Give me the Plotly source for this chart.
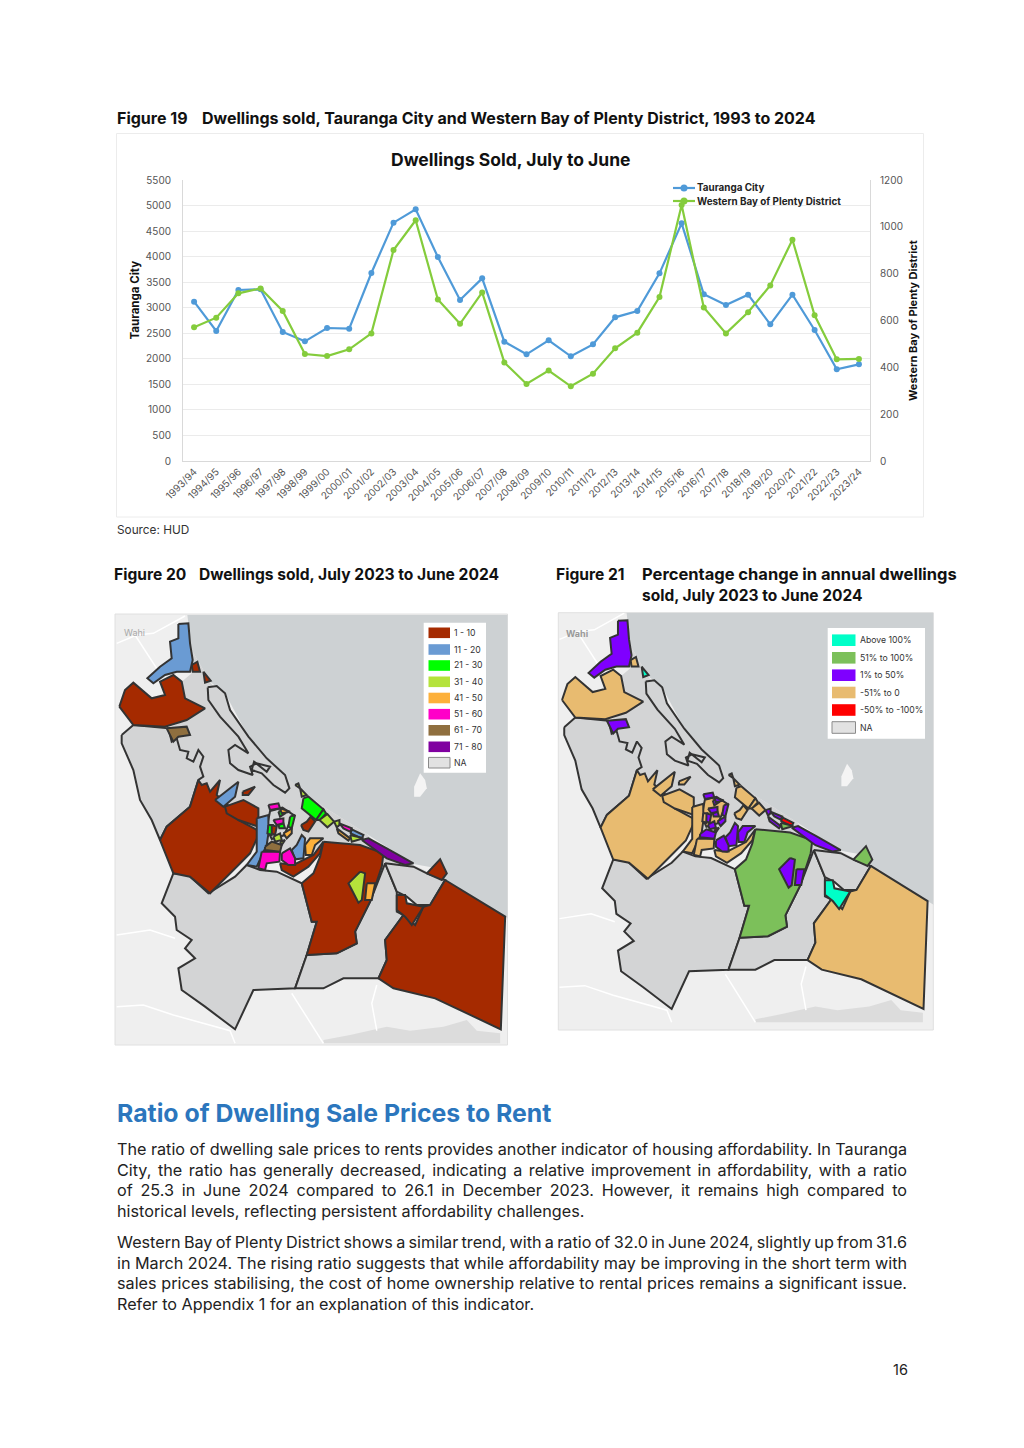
import plotly.graph_objects as go

FONT = "Inter"
W, H = 1024, 1448

# ---------- Figure 19 data ----------
years = ["1993/94","1994/95","1995/96","1996/97","1997/98","1998/99","1999/00","2000/01","2001/02","2002/03",
         "2003/04","2004/05","2005/06","2006/07","2007/08","2008/09","2009/10","2010/11","2011/12","2012/13",
         "2013/14","2014/15","2015/16","2016/17","2017/18","2018/19","2019/20","2020/21","2021/22","2022/23","2023/24"]
tauranga = [3118,2544,3347,3360,2525,2342,2603,2590,3680,4665,4926,3993,3151,3575,2336,2088,2362,2049,2283,2812,
            2936,3673,4652,3262,3053,3256,2675,3256,2564,1794,1892]
western = [571,612,716,737,641,457,448,477,545,901,1028,690,586,720,421,329,386,319,373,481,
           548,700,1093,656,545,635,750,945,622,434,436]

# ---------- Map data: outlines shared by both maps, with a class per map ----------
sea_outline = [(232,15),(1210,15),(1210,935),(1185,920),(1005,810),(980,775),(910,762),(770,672),(640,590),(560,530),
               (520,495),(415,380),(345,250),(300,215),(245,120),(235,40)]
land_patch = [(640,1290),(720,1275),(830,1250),(900,1262),(1000,1250),(1070,1230),(1100,1262),(1170,1270),(1170,1300),(640,1300)]
island = [(930,490),(945,510),(950,535),(930,560),(912,560),(912,530)]
harbour = [(245,120),(300,215),(415,380),(520,495),(640,590),(770,672),(830,730),(910,765),(1005,810),(825,800),(640,740),(450,720),
           (265,530),(175,355),(225,330),(285,295),(225,265),(215,215),(245,190)]
roads = [
    [(20,100),(80,75),(130,70),(225,18)],
    [(75,75),(110,130),(140,175)],
    [(20,1190),(100,1185),(190,1215),(285,1240),(360,1262),(375,1300)],
    [(20,975),(120,960),(195,985)],
    [(545,1150),(590,1220),(640,1300)],
    [(800,1125),(785,1180),(800,1262)],
    [(470,790),(480,960),(560,1130)],
    [(835,770),(870,830),(900,880)],
]
region_outlines = [
 [(35,375),(70,345),(175,355),(185,395),(200,385),(210,420),(235,425),(230,445),(250,455),(265,420),(280,440),(270,470),(280,500),(265,510),(240,590),(170,650),(150,690),(125,630),(90,570),(70,480),(35,400)],
 [(293,232),(320,228),(345,250),(360,300),(415,380),(470,445),(525,495),(538,535),(525,548),(490,525),(455,490),(425,480),(432,455),(470,485),(480,470),(440,460),(420,470),(428,495),(385,480),(360,460),(355,420),(375,405),(415,430),(385,380),(330,320),(295,270)],
 [(190,790),(235,795),(295,850),(375,800),(410,765),(450,780),(500,785),(575,820),(605,935),(620,935),(590,1035),(555,1135),(430,1140),(375,1258),(285,1190),(215,1140),(205,1075),(255,1045),(225,1015),(245,990),(200,960),(195,920),(155,880)],
 [(590,1035),(680,1030),(740,1000),(735,965),(780,875),(810,800),(825,760),(860,845),(860,905),(880,915),(825,990),(830,1050),(805,1105),(700,1105),(640,1135),(555,1135)],
 [(825,760),(910,770),(950,790),(1005,810),(960,885),(920,885),(890,860),(860,845)],
 [(480,603),(517,593),(549,614),(522,676),(485,687),(470,655)],
 [(28,290),(45,240),(70,218),(125,265),(165,255),(150,215),(190,195),(215,215),(225,265),(285,295),(230,330),(165,350),(70,345)],
 [(245,165),(262,155),(270,185),(248,185)],
 [(280,185),(302,212),(285,218)],
 [(265,510),(275,525),(290,520),(300,545),(330,510),(320,555),(370,600),(385,630),(450,665),(420,730),(380,770),(300,850),(240,800),(190,790),(150,690),(170,650),(240,590)],
 [(345,590),(400,570),(445,595),(445,650),(385,630),(350,610)],
 [(398,545),(435,530),(415,555),(398,555)],
 [(573,645),(590,635),(602,620),(615,635),(595,665),(580,660)],
 [(510,760),(550,765),(610,735),(640,695),(630,730),(595,770),(550,800),(515,780)],
 [(640,695),(750,705),(820,730),(815,770),(780,875),(735,965),(740,1000),(680,1030),(590,1035),(620,935),(605,935),(575,820),(610,790),(630,740)],
 [(1005,810),(1185,920),(1172,1258),(975,1165),(850,1135),(805,1105),(830,1050),(825,990),(880,915),(915,945),(940,890),(960,885)],
 [(860,855),(885,855),(890,880),(940,890),(905,945),(885,920),(860,900)],
 [(950,790),(990,748),(1010,790),(995,810)],
 [(205,42),(235,40),(240,100),(248,150),(240,185),(200,185),(165,195),(130,220),(112,205),(150,170),(185,145),(180,95),(205,85)],
 [(315,570),(365,530),(385,515),(375,560),(340,590)],
 [(440,625),(475,615),(475,670),(470,705),(440,770),(410,765),(440,725)],
 [(545,720),(560,705),(575,675),(585,685),(580,745),(555,748)],
 [(725,658),(760,675),(755,685),(722,670)],
 [(580,565),(595,560),(640,598),(618,630),(575,595)],
 [(618,630),(640,598),(648,610),(630,630)],
 [(475,645),(488,645),(485,675),(472,670)],
 [(505,605),(520,600),(525,610),(510,620)],
 [(505,645),(520,640),(525,655),(508,655)],
 [(540,620),(555,615),(545,655),(535,650)],
 [(628,630),(652,612),(672,635),(652,652)],
 [(672,635),(688,630),(688,645),(680,652)],
 [(720,675),(760,685),(725,695)],
 [(750,785),(765,790),(755,870),(745,878),(715,820)],
 [(555,525),(565,520),(570,535)],
 [(570,535),(590,555),(575,560)],
 [(490,680),(510,670),(515,690),(495,695)],
 [(585,705),(600,685),(640,685),(615,705),(605,735),(587,735)],
 [(770,820),(795,820),(785,870),(765,870)],
 [(680,655),(720,685),(715,692),(685,670)],
 [(520,670),(545,655),(545,670),(530,685)],
 [(510,595),(540,605),(515,610)],
 [(455,725),(510,725),(508,755),(470,760),(465,780),(445,775)],
 [(515,730),(540,715),(555,745),(555,765),(535,765),(515,750)],
 [(475,585),(505,580),(510,595),(480,600)],
 [(490,630),(520,625),(520,640),(500,645)],
 [(688,640),(725,655),(720,665),(700,655)],
 [(170,355),(230,350),(240,375),(205,380),(190,395)],
 [(465,710),(485,695),(515,705),(510,725),(465,720)],
 [(755,690),(775,685),(830,715),(910,760),(885,765),(830,745)],
 [(485,645),(500,650),(495,675),(485,670)],
 [(510,695),(525,690),(515,705)],
]
region_class_a = ["NA","NA","NA","NA","NA","NA","1 - 10","1 - 10","1 - 10","1 - 10","1 - 10","1 - 10","1 - 10","1 - 10","1 - 10",
                  "1 - 10","1 - 10","1 - 10","11 - 20","11 - 20","11 - 20","11 - 20","11 - 20","21 - 30","21 - 30","21 - 30",
                  "21 - 30","21 - 30","21 - 30","31 - 40","31 - 40","31 - 40","31 - 40","31 - 40","31 - 40","31 - 40",
                  "41 - 50","41 - 50","41 - 50","41 - 50","41 - 50","51 - 60","51 - 60","51 - 60","51 - 60","51 - 60",
                  "61 - 70","61 - 70","71 - 80","1 - 10","31 - 40"]
region_class_b = ["NA","NA","NA","NA","NA","-51% to 0","-51% to 0","-51% to 0","Above 100%","-51% to 0","-51% to 0","-51% to 0","-51% to 0","-51% to 0",
                  "51% to 100%","-51% to 0","Above 100%","51% to 100%","1% to 50%","-51% to 0","-51% to 0","1% to 50%","-50% to -100%",
                  "-51% to 0","-51% to 0","-51% to 0","1% to 50%","1% to 50%","1% to 50%","-51% to 0","1% to 50%","51% to 100%",
                  "1% to 50%","-51% to 0","-51% to 0","1% to 50%","1% to 50%","1% to 50%","1% to 50%","1% to 50%","1% to 50%",
                  "-51% to 0","1% to 50%","1% to 50%","1% to 50%","1% to 50%","1% to 50%","1% to 50%","1% to 50%","1% to 50%","-50% to -100%"]

legend_a = ["1 - 10","11 - 20","21 - 30","31 - 40","41 - 50","51 - 60","61 - 70","71 - 80","NA"]
legend_a_colors = ["#a52a00","#6a9bd3","#00ff00","#b5e33b","#fdb03a","#ff00c8","#8f6f3f","#8000a0","#e2e2e2"]
legend_b = ["Above 100%","51% to 100%","1% to 50%","-51% to 0","-50% to -100%","NA"]
legend_b_colors = ["#00ffc8","#7cc05a","#7f00ff","#e8bb70","#ff0000","#e2e2e2"]

# ---------- Text ----------
para_lines = [
 "The ratio of dwelling sale prices to rents provides another indicator of housing affordability. In Tauranga",
 "City, the ratio has generally decreased, indicating a relative improvement in affordability, with a ratio",
 "of 25.3 in June 2024 compared to 26.1 in December 2023. However, it remains high compared to",
 "historical levels, reflecting persistent affordability challenges.",
 "Western Bay of Plenty District shows a similar trend, with a ratio of 32.0 in June 2024, slightly up from 31.6",
 "in March 2024. The rising ratio suggests that while affordability may be improving in the short term with",
 "sales prices stabilising, the cost of home ownership relative to rental prices remains a significant issue.",
 "Refer to Appendix 1 for an explanation of this indicator.",
]
para_y = [1149,1169.7,1190,1211,1242,1262.5,1283,1304]
justified = [0,1,2,4,5,6]

def px(x): return x / W
def py(y): return 1 - y / H

fig = go.Figure()
BLUE, GREEN = "#4f9ad8", "#84cc3c"
fig.add_trace(go.Scatter(x=years, y=tauranga, name="Tauranga City", mode="lines+markers", xaxis="x", yaxis="y",
                         line=dict(color=BLUE, width=2.2), marker=dict(size=6, color=BLUE), showlegend=False))
fig.add_trace(go.Scatter(x=years, y=western, name="Western Bay of Plenty District", mode="lines+markers", xaxis="x", yaxis="y2",
                         line=dict(color=GREEN, width=2.2), marker=dict(size=6, color=GREEN), showlegend=False))

COL_A = dict(zip(legend_a, legend_a_colors)); COL_A["NA"] = "#d3d4d5"
COL_B = dict(zip(legend_b, legend_b_colors)); COL_B["NA"] = "#d3d4d5"

def poly(pts, xa, ya, fill, line=None, w=0):
    xs = [p[0] for p in pts]; ys = [p[1] for p in pts]
    fig.add_trace(go.Scatter(x=xs + xs[:1], y=ys + ys[:1], xaxis=xa, yaxis=ya, mode="lines", fill="toself", fillcolor=fill,
                             line=dict(color=line or fill, width=w), hoverinfo="skip", showlegend=False))

for xa, ya, classes, cols in (("x3","y3",region_class_a,COL_A),("x4","y4",region_class_b,COL_B)):
    poly(land_patch, xa, ya, "#dcdcdc")
    for r in roads:
        fig.add_trace(go.Scatter(x=[p[0] for p in r], y=[p[1] for p in r], xaxis=xa, yaxis=ya, mode="lines",
                                 line=dict(color="#ffffff", width=1.5), hoverinfo="skip", showlegend=False))
    poly(sea_outline, xa, ya, "#cdd1d3")
    poly(harbour, xa, ya, "#d3d4d5")
    poly(island, xa, ya, "#f4f4f4")
    for pts, c in zip(region_outlines, classes):
        poly(pts, xa, ya, cols[c], "#333333", 2)

shapes, ann = [], []
def rect(x0, y0, x1, y1, fill, line="rgba(0,0,0,0)", w=0, layer="above"):
    shapes.append(dict(type="rect", xref="paper", yref="paper", x0=px(x0), x1=px(x1), y0=py(y0), y1=py(y1),
                       fillcolor=fill, line=dict(color=line, width=w), layer=layer))
def text(x, y, s, size, color="#111111", weight=400, anchor="left", family=FONT, angle=0):
    shift = {"left": -2, "right": 3, "center": 0}[anchor]
    ann.append(dict(xref="paper", yref="paper", x=px(x + shift), y=py(y), text=s, showarrow=False, xanchor=anchor, yanchor="middle",
                    align=anchor, textangle=angle, font=dict(family=family, size=size, color=color, weight=weight)))

# frames
rect(116.5, 133.5, 923.5, 517, "rgba(0,0,0,0)", "#ececec", 1, "below")
rect(115, 614, 507.5, 1045, "#efefef", "#e0e0e0", 1, "below")
rect(558.3, 612.7, 933.3, 1030, "#efefef", "#e0e0e0", 1, "below")

# headings
text(117, 118, "Figure 19", 16, weight=700)
text(202, 118, "Dwellings sold, Tauranga City and Western Bay of Plenty District, 1993 to 2024", 16, weight=700)
text(510.5, 159, "Dwellings Sold, July to June", 17.5, weight=700, anchor="center")
text(117, 530, "Source: HUD", 11.8, color="#333333")
text(114, 574, "Figure 20", 15.6, weight=700)
text(199, 574, "Dwellings sold, July 2023 to June 2024", 15.6, weight=700)
text(556, 574, "Figure 21", 15.6, weight=700)
text(642, 574, "Percentage change in annual dwellings", 16.5, weight=700)
text(642, 595, "sold, July 2023 to June 2024", 15.5, weight=700)
text(117, 1113, "Ratio of Dwelling Sale Prices to Rent", 24.8, color="#2b76bd", weight=700)
for s, y in zip(para_lines, para_y):
    text(117, y, s, 16.2, color="#222222")
text(907, 1369, "16", 14.5, color="#222222", anchor="right")
text(124, 632, "Wahi", 9, color="#a8a8a8")
text(566, 633, "Wahi", 9, color="#9a9a9a", weight=700)

# chart axis titles and key
text(134.5, 300, "Tauranga City", 11.5, weight=700, anchor="center", angle=-90)
text(913, 321, "Western Bay of Plenty District", 11, weight=700, anchor="center", angle=-90)
for lab, col, yc in (("Tauranga City", BLUE, 188), ("Western Bay of Plenty District", GREEN, 201)):
    shapes.append(dict(type="line", xref="paper", yref="paper", x0=px(673), x1=px(695), y0=py(yc), y1=py(yc),
                       line=dict(color=col, width=2.2)))
    shapes.append(dict(type="circle", xref="paper", yref="paper", x0=px(680.5), x1=px(687.5), y0=py(yc+3.5), y1=py(yc-3.5),
                       fillcolor=col, line=dict(color=col, width=0)))
    text(697, yc, lab, 9.85, color="#222222", weight=700)

# map legends
rect(423.7, 622.7, 486, 772.7, "#ffffff")
for lab, col, yc in zip(legend_a, legend_a_colors, [632.8,649.5,665.5,681.8,698,714.2,730.3,746.8,762.7]):
    rect(428.5, yc-5.3, 450, yc+5.3, col, "#8a8a8a" if lab == "NA" else "rgba(0,0,0,0)", 1 if lab == "NA" else 0)
    text(454, yc, lab, 8.7, color="#333333")
rect(827.7, 628, 925, 738.7, "#ffffff")
for lab, col, yc in zip(legend_b, legend_b_colors, [640.2,657.8,675.2,692.5,710,727.5]):
    rect(832, yc-5.8, 855.5, yc+5.8, col, "#8a8a8a" if lab == "NA" else "rgba(0,0,0,0)", 1 if lab == "NA" else 0)
    text(860, yc, lab, 8.7, color="#333333")

def hidden(rng, dom, anchor):
    return dict(range=rng, domain=dom, visible=False, anchor=anchor, fixedrange=True, automargin=False)

grid = "#ebebeb"
fig.update_layout(
    width=W, height=H, autosize=False, margin=dict(l=0, r=0, t=0, b=0, pad=0),
    paper_bgcolor="white", plot_bgcolor="rgba(0,0,0,0)", font=dict(family=FONT, color="#555555"),
    shapes=shapes, annotations=ann, showlegend=False,
    xaxis=dict(domain=[px(183), px(870)], anchor="y", type="category", range=[-0.5, 30.5], tickangle=-45, automargin=False,
               tickfont=dict(size=10, color="#555555"), showgrid=False, showline=True, linecolor="#d9d9d9", ticks=""),
    yaxis=dict(domain=[py(461), py(180)], anchor="x", range=[0, 5500], dtick=500, gridcolor=grid, showline=True, linecolor="#d9d9d9",
               tickfont=dict(size=10, color="#555555"), ticks="outside", ticklen=9, tickcolor="rgba(0,0,0,0)", zeroline=False, automargin=False),
    yaxis2=dict(domain=[py(461), py(180)], anchor="x", overlaying="y", side="right", range=[0, 1200], dtick=200, showgrid=False,
                showline=True, linecolor="#d9d9d9", tickfont=dict(size=10, color="#555555"), ticks="outside", ticklen=7,
                tickcolor="rgba(0,0,0,0)", zeroline=False, automargin=False),
    xaxis3=hidden([15, 1192], [px(115), px(507.5)], "y3"),
    yaxis3=hidden([1305, 12], [py(1045), py(614)], "x3"),
    xaxis4=hidden([16.2, 1203], [px(558.3), px(933.3)], "y4"),
    yaxis4=hidden([1324, 16.4], [py(1030), py(612.7)], "x4"),
)

JS = """
document.body.style.margin='0';
var lines = %s;
document.querySelectorAll('.annotation-text').forEach(function(t){
  var s = t.textContent;
  if (lines.indexOf(s) < 0) return;
  var n = s.split(' ').length - 1;
  var cur = t.getComputedTextLength();
  t.style.wordSpacing = ((790 - cur) / n) + 'px';
});
""" % (repr([para_lines[i] for i in justified]))
fig.write_html("out.html", post_script=JS, config={"displayModeBar": False})
